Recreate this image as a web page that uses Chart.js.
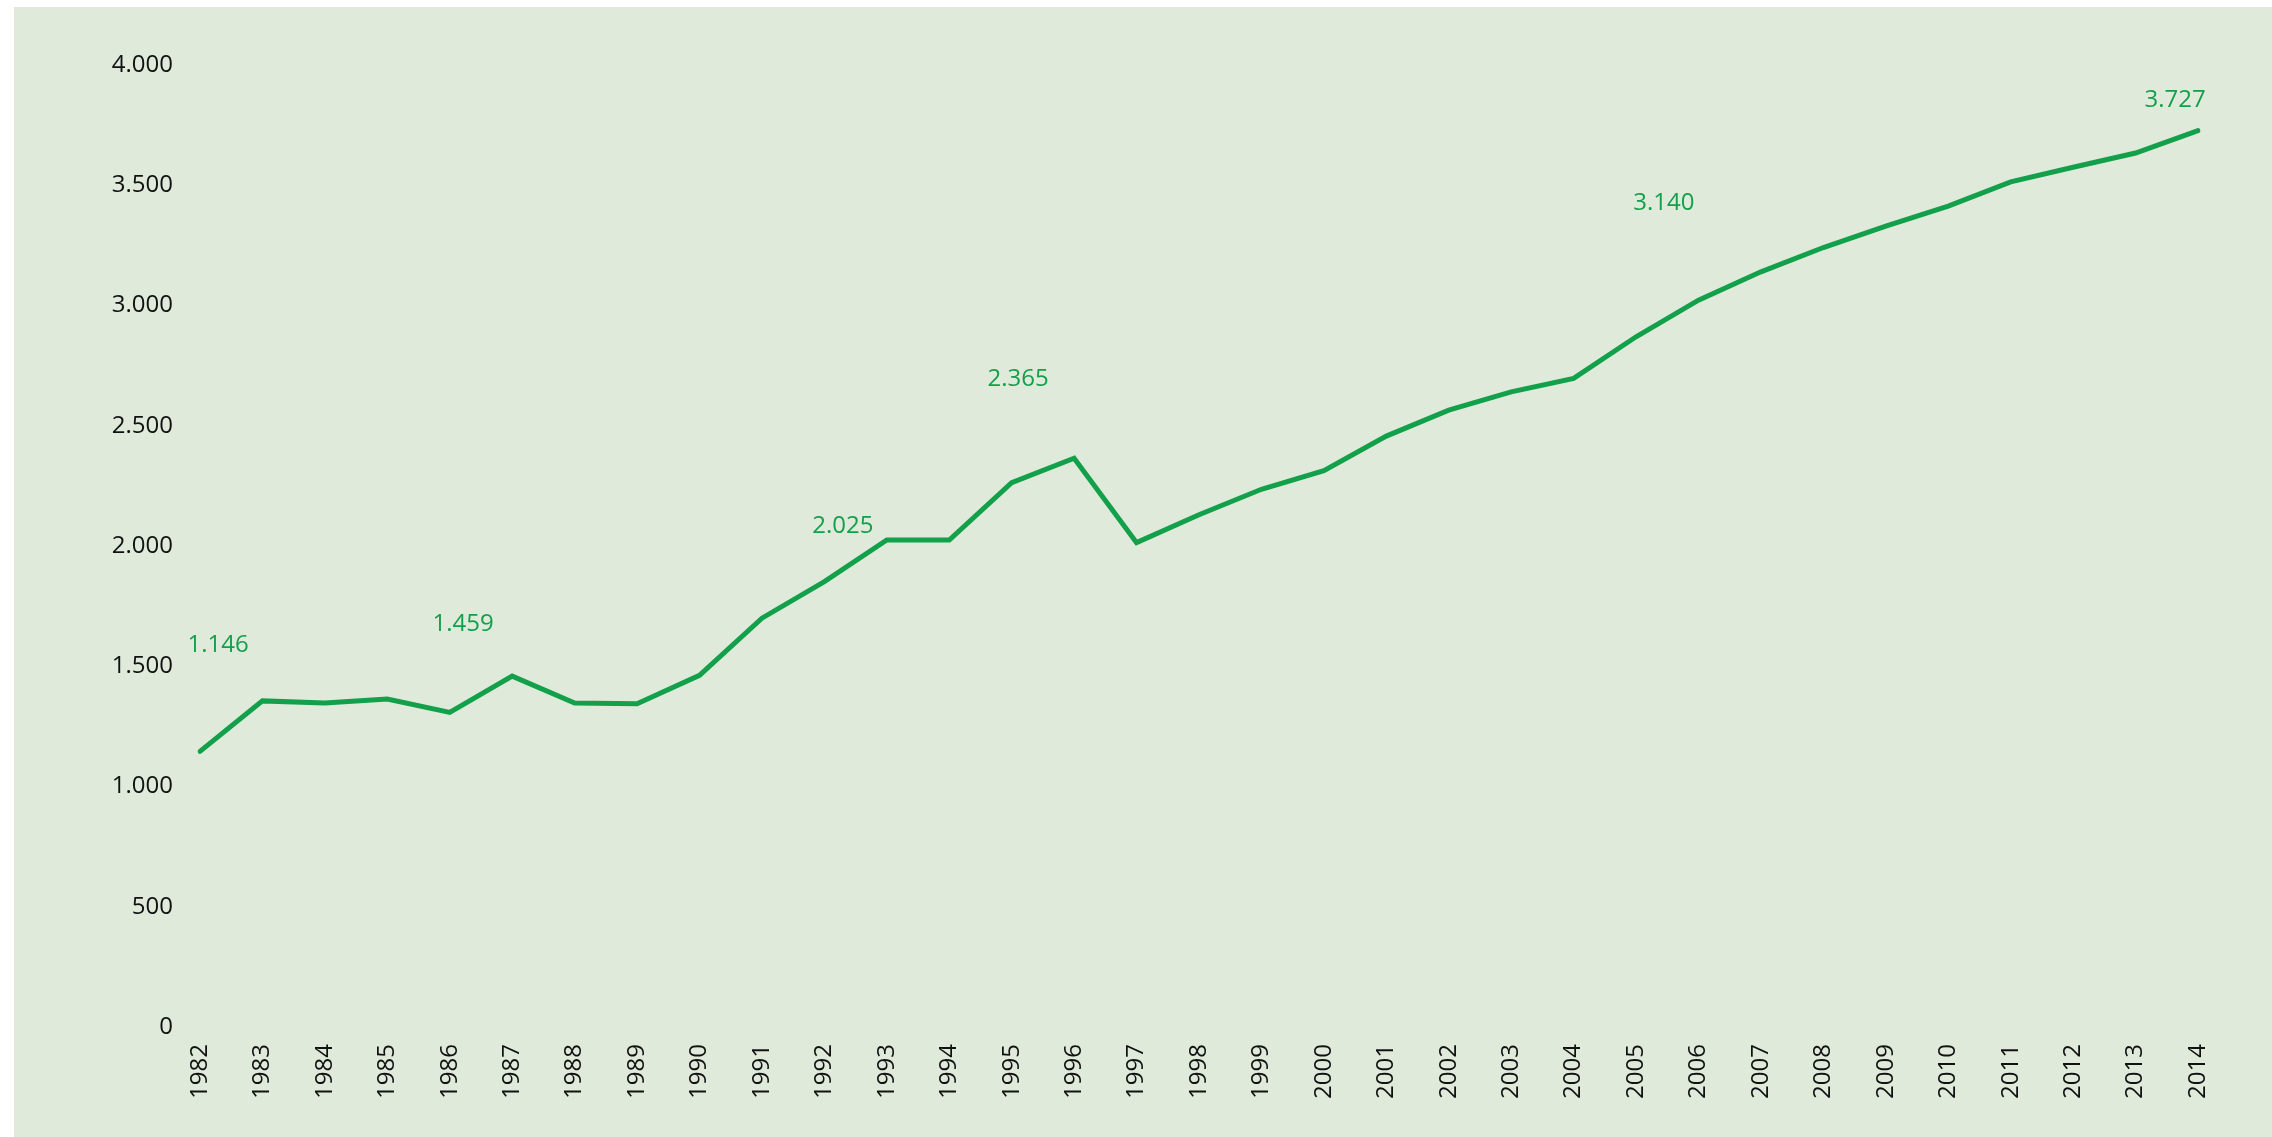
<!DOCTYPE html>
<html>
<head>
<meta charset="utf-8">
<script src="https://cdn.jsdelivr.net/npm/chart.js@4"></script>
<style>
    html, body { margin: 0; padding: 0; background: #ffffff; }
    #panel {
        position: absolute;
        left: 14px;
        top: 7px;
        width: 2258px;
        height: 1130px;
        background: #dfeadb;
    }
</style>
</head>
<body>
<div id="panel"><canvas id="lineChart"></canvas></div>
<script>

const years = [
    "1982", "1983", "1984", "1985", "1986", "1987", "1988", "1989",
    "1990", "1991", "1992", "1993", "1994", "1995", "1996", "1997",
    "1998", "1999", "2000", "2001", "2002", "2003", "2004", "2005",
    "2006", "2007", "2008", "2009", "2010", "2011", "2012", "2013", "2014"
];

const values = [
    1146, 1356, 1347, 1364, 1308, 1459, 1347, 1344,
    1462, 1700, 1852, 2025, 2025, 2263, 2365, 2014,
    2130, 2236, 2313, 2457, 2565, 2641, 2697, 2870,
    3022, 3140, 3241, 3330, 3413, 3514, 3575, 3634, 3727
];

// years whose value is written on the chart
const labelledYears = ["1982", "1987", "1993", "1996", "2007", "2014"];

const yTicks = [0, 500, 1000, 1500, 2000, 2500, 3000, 3500, 4000];

const GREEN = "#13a04a";
const FONT = "'Open Sans', 'Noto Sans', sans-serif";

function fmt(n) {
    return String(n).replace(/\B(?=(\d{3})+(?!\d))/g, ".");
}

// where each value label sits relative to its point
const labelShift = {
    "1982": [18, -106],
    "1987": [-49, -52],
    "1993": [-44, -14],
    "1996": [-56, -79],
    "2007": [-97, -69],
    "2014": [-23, -31]
};

const valueLabels = {
    id: "valueLabels",
    afterDatasetsDraw(chart) {
        const ctx = chart.ctx;
        const points = chart.getDatasetMeta(0).data;
        ctx.save();
        ctx.fillStyle = GREEN;
        ctx.font = "24px " + FONT;
        ctx.textAlign = "center";
        ctx.textBaseline = "middle";
        labelledYears.forEach(y => {
            const i = years.indexOf(y);
            const p = points[i];
            const s = labelShift[y];
            ctx.fillText(fmt(values[i]), p.x + s[0], p.y + s[1]);
        });
        ctx.restore();
    }
};

const ctx = document.getElementById("lineChart");

new Chart(ctx, {
    type: "line",
    data: {
        labels: years,
        datasets: [{
            data: values,
            borderColor: GREEN,
            borderWidth: 5,
            borderCapStyle: "round",
            pointRadius: 0,
            tension: 0,
            fill: false
        }]
    },
    options: {
        responsive: true,
        maintainAspectRatio: false,
        animation: false,
        layout: {
            padding: { left: 0, right: 74, top: 58, bottom: 0 }
        },
        plugins: {
            legend: { display: false },
            tooltip: { enabled: false }
        },
        scales: {
            x: {
                offset: false,
                grid: { display: false, drawTicks: false },
                border: { display: false },
                ticks: {
                    autoSkip: false,
                    minRotation: 90,
                    maxRotation: 90,
                    padding: 17,
                    color: "#111111",
                    font: { family: FONT, size: 24 }
                },
                afterFit(scale) {
                    scale.height = 110;
                }
            },
            y: {
                min: 0,
                max: 4000,
                grid: { display: false, drawTicks: false },
                border: { display: false },
                afterBuildTicks(scale) {
                    scale.ticks = yTicks.map(v => ({ value: v }));
                },
                ticks: {
                    padding: 27,
                    color: "#111111",
                    font: { family: FONT, size: 24 },
                    callback: v => fmt(v)
                },
                afterFit(scale) {
                    scale.width = 186;
                }
            }
        }
    },
    plugins: [valueLabels]
});
</script>
</body>
</html>
